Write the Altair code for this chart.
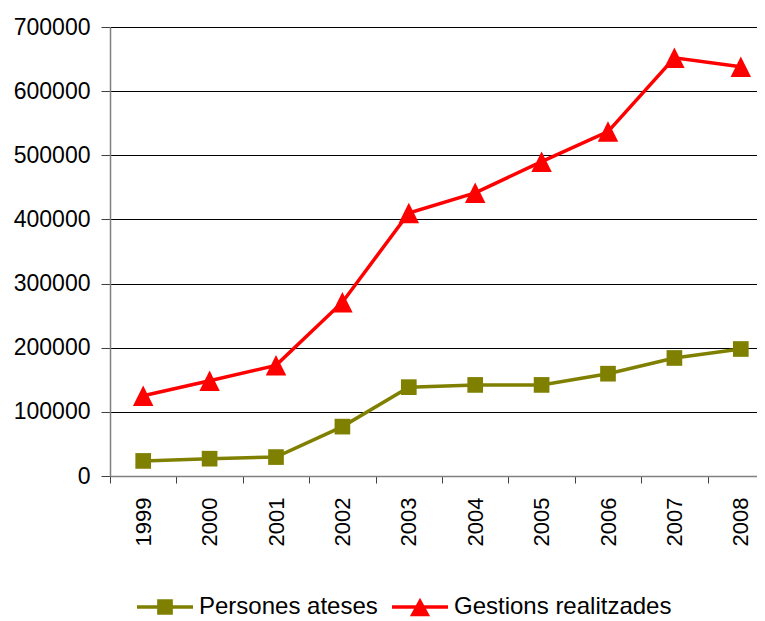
import altair as alt
import pandas as pd

years = ["1999", "2000", "2001", "2002", "2003", "2004", "2005", "2006", "2007", "2008"]
persones = [23500, 27000, 29500, 77000, 138500, 142000, 142000, 159500, 184000, 198000]
gestions = [125000, 148500, 172500, 271000, 410000, 441500, 490000, 537000, 652000, 638000]
series_names = ["Persones ateses", "Gestions realitzades"]
colors = ["#808000", "#FF0000"]
y_ticks = [0, 100000, 200000, 300000, 400000, 500000, 600000, 700000]

rows = []
for yr, p, g in zip(years, persones, gestions):
    rows.append({"year": yr, "series": series_names[0], "value": p})
    rows.append({"year": yr, "series": series_names[1], "value": g})
df = pd.DataFrame(rows)

FONT = "Liberation Sans"

x_enc = alt.X(
    "year:O",
    sort=years,
    scale=alt.Scale(type="band", paddingInner=0, paddingOuter=0, range=[0, 664]),
    axis=alt.Axis(
        title=None, labelAngle=-90, labelFont=FONT, labelFontSize=22, labelColor="black",
        tickBand="extent", tickSize=7, tickColor="#404040", domainColor="#808080",
        domainWidth=1.5, labelPadding=14, grid=False,
    ),
)
y_enc = alt.Y(
    "value:Q",
    scale=alt.Scale(domain=[0, 700000], nice=False, zero=True),
    axis=alt.Axis(
        title=None, values=y_ticks, format="d", labelFont=FONT, labelFontSize=23,
        labelColor="black", grid=True, gridColor="black", gridWidth=1,
        tickSize=9, tickColor="#404040", domainColor="#808080", domainWidth=1.5,
        labelPadding=11,
    ),
)

base = alt.Chart(df)

layers = []
for name, col in zip(series_names, colors):
    layers.append(
        base.transform_filter(alt.datum.series == name)
        .mark_line(strokeWidth=3.5, color=col)
        .encode(x=x_enc, y=y_enc)
    )

squares = base.transform_filter(alt.datum.series == series_names[0]).mark_point(
    shape="square", filled=True, size=246, color=colors[0], opacity=1
).encode(x=x_enc, y=y_enc)

triangles = base.transform_filter(alt.datum.series == series_names[1]).mark_point(
    shape="M0,-1L1,1L-1,1Z", filled=True, size=420, color=colors[1], opacity=1
).encode(x=x_enc, y=y_enc)

sq_path = "M-1,-0.06H1V0.06H-1Z M-0.28,-0.28H0.28V0.28H-0.28Z"
tri_path = "M-1,-0.06H1V0.06H-1Z M0,-0.33L0.36,0.33L-0.36,0.33Z"

leg = alt.Legend(
    title=None, orient="none", legendX=27, legendY=552, direction="horizontal",
    symbolSize=3136, symbolStrokeWidth=0, symbolOpacity=1, labelFont=FONT,
    labelFontSize=24, labelColor="black", labelOffset=6, columnPadding=14, padding=0,
    labelLimit=500,
)

legend_layer = base.mark_point(filled=True, opacity=0).encode(
    x=x_enc, y=y_enc,
    color=alt.Color("series:N", scale=alt.Scale(domain=series_names, range=colors), legend=leg),
    shape=alt.Shape("series:N", scale=alt.Scale(domain=series_names, range=[sq_path, tri_path]), legend=leg),
)

chart = alt.layer(*layers, squares, triangles, legend_layer).properties(
    width=647, height=449,
    autosize=alt.AutoSizeParams(type="none"),
    padding={"left": 102, "top": 19, "right": 0, "bottom": 145},
).configure_view(stroke=None).configure(background="white")

chart.save("out.html", embed_options={"renderer": "svg", "actions": False})
